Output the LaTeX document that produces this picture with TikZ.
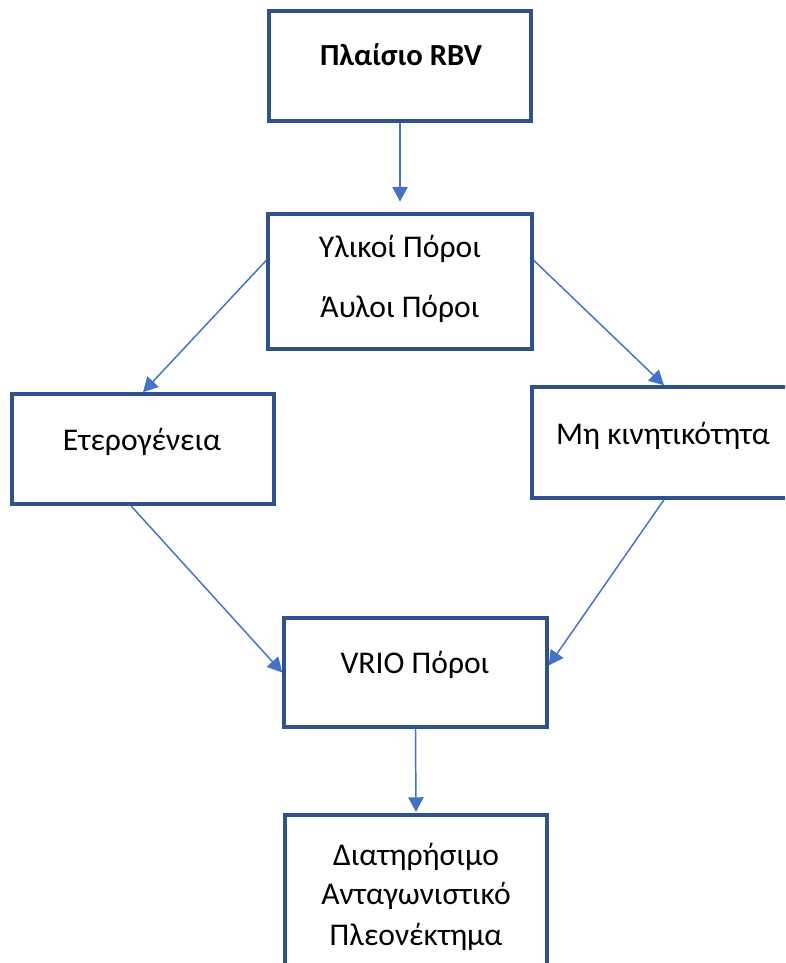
\documentclass[tikz,border=0pt]{standalone}
\usepackage{fontspec}
\setmainfont{Carlito}
\usetikzlibrary{arrows.meta}
\definecolor{boxline}{HTML}{2F528F}
\definecolor{arrowline}{HTML}{4472C4}
\tikzset{
  box/.style={draw=boxline, line width=2.6pt, fill=white, rectangle, inner sep=0pt},
  label/.style={anchor=base, font=\fontsize{23.7}{28}\selectfont, inner sep=0pt},
  link/.style={draw=arrowline, line width=1.1pt,
    -{Triangle[length=11pt,width=11.5pt]}}
}
\begin{document}
\begin{tikzpicture}[x=0.75pt,y=-0.75pt]
\useasboundingbox (0,0) rectangle (785,963);
\clip (0,0) rectangle (785,963);
% frames
\node[box, minimum width=196.5pt, minimum height=82.5pt] (b1) at (400,66) {};
\node[box, minimum width=198pt, minimum height=101.25pt] (b2) at (400,281.5) {};
\node[box, minimum width=196.5pt, minimum height=82.5pt] (b3) at (143,449) {};
\node[box, minimum width=198pt, minimum height=83.25pt] (b4) at (664,442.5) {};
\node[box, minimum width=197.25pt, minimum height=81.75pt] (b5) at (415.5,672.5) {};
\node[box, minimum width=196.5pt, minimum height=120pt] (b6) at (416,895) {};
% texts
\node[label, font=\fontsize{23}{27}\selectfont\bfseries] (t1) at (401,66) {Πλαίσιο RBV};
\node[label] (t2a) at (400,257) {Υλικοί Πόροι};
\node[label] (t2b) at (400,317) {Άυλοι Πόροι};
\node[label] (t3) at (142,450) {Ετερογένεια};
\node[label] (t4) at (663,444) {Μη κινητικότητα};
\node[label] (t5) at (415,673) {VRIO Πόροι};
\node[label] (t6a) at (416,865) {Διατηρήσιμο};
\node[label] (t6b) at (416,904) {Ανταγωνιστικό};
\node[label] (t6c) at (416,945) {Πλεονέκτημα};
% connectors
\draw[link, shorten >=8pt] (b1.south) -- (b2.north);
\draw[link] (b2.171.6) -- (b3.north);
\draw[link] (b2.9.25) -- (b4.north);
\draw[link] (b3.-102) -- (b5.west);
\draw[link] (b4.south) -- (b5.3);
\draw[link, shorten >=1pt] (b5.south) -- (b6.north);
\end{tikzpicture}
\end{document}
